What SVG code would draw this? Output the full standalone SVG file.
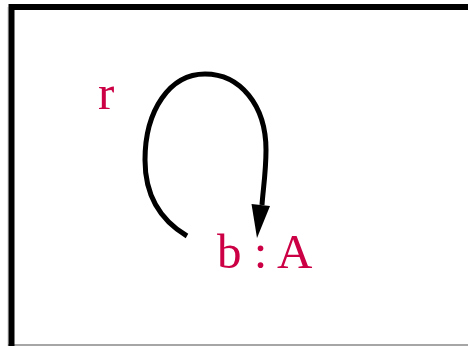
<svg xmlns="http://www.w3.org/2000/svg" width="468" height="346" viewBox="0 0 468 346">
<style>
.lbl{font-family:"Liberation Serif","Times New Roman",serif;font-size:49px;fill:#cc0044}
.edge{fill:none;stroke:#000;stroke-width:5}
</style>
<rect width="468" height="346" fill="#fff"/>
<g id="frame">
<line x1="8" y1="7" x2="8" y2="346" stroke="#ccc" stroke-width="1"/>
<line x1="8" y1="345" x2="468" y2="345" stroke="#888" stroke-width="1.5"/>
<path d="M11.5,346 V7 H468" fill="none" stroke="#000" stroke-width="6"/>
</g>
<g id="connectors">
<path class="edge" d="M187,236 C160,220 145,195 145,160 C145,110 170,74 205,74 C240,74 266,105 266,150 C266,172 263,190 262,205"/>
<polygon points="257,238 251.5,204 270,206" fill="#000"/>
</g>
<g id="edge-label"><text class="lbl" x="98" y="109">r</text></g>
<g id="node-b"><text class="lbl" x="217" y="268">b : A</text></g>
</svg>
